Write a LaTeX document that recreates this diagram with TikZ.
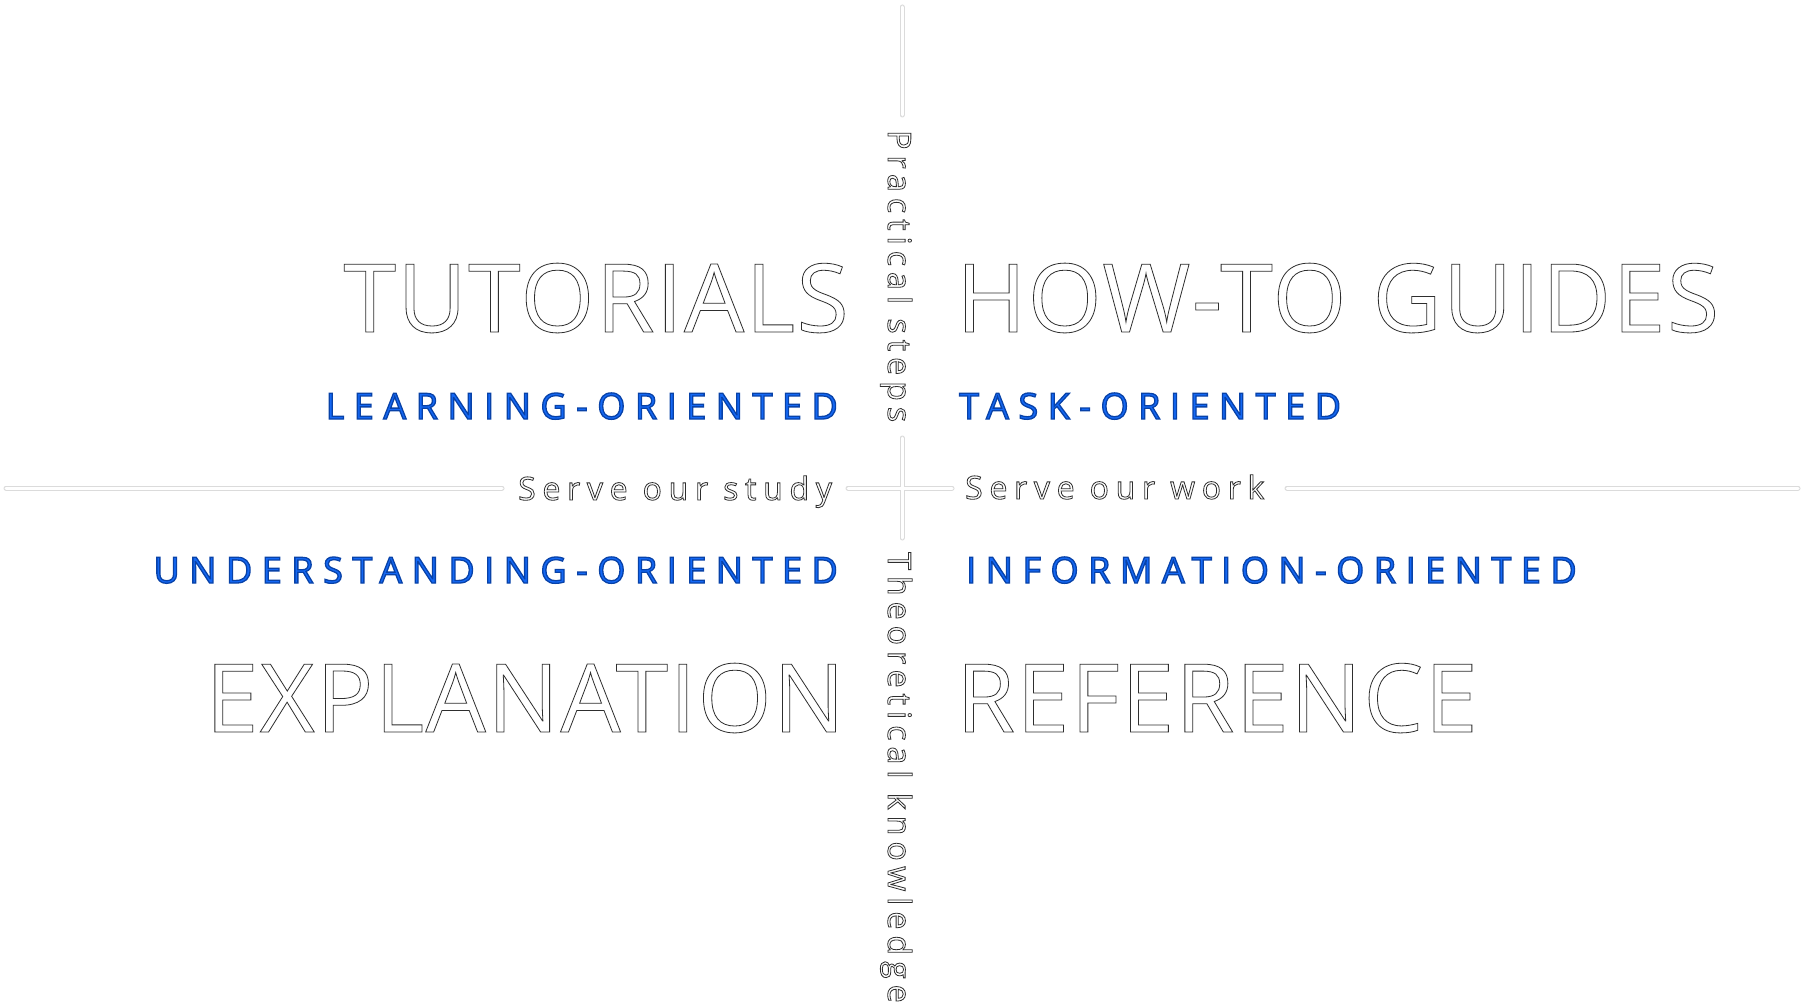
\documentclass[tikz,border=0pt]{standalone}
\usepackage{fontspec}
\setmainfont{Open Sans}
\newfontfamily\quadfont[LetterSpace=1.6]{Open Sans}
\newfontfamily\aimfont[LetterSpace=26.5]{Open Sans}
\newfontfamily\axisfont[LetterSpace=21]{Open Sans}
\newfontfamily\stemfont[LetterSpace=19]{Open Sans}
\usepackage{tikz}
\usetikzlibrary{positioning}
\definecolor{aimblue}{RGB}{20,104,245}
\newcommand{\hollow}[1]{{\color{white}\special{pdf:literal direct 2 Tr 0.8 w 0.18 G}#1\special{pdf:literal direct 0 Tr}}}
\newcommand{\aimtext}[1]{{\color{aimblue}\special{pdf:literal direct 2 Tr 1.3 w 0.03 0.26 0.66 RG}#1\special{pdf:literal direct 0 Tr}}}
\tikzset{
  quadrant/.style={font=\quadfont\fontsize{95}{100}\selectfont, inner sep=0pt},
  aimlabel/.style={font=\aimfont\fontsize{36}{40}\selectfont, inner sep=0pt},
  axislabel/.style={font=\axisfont\fontsize{32}{36}\selectfont, inner sep=0pt},
  stemlabel/.style={font=\stemfont\fontsize{32}{36}\selectfont, inner sep=0pt, rotate=-90},
  ruleedge/.style={line width=5pt, draw=black!14, line cap=round},
  rulecore/.style={line width=3pt, draw=white, line cap=round}
}
\begin{document}
\begin{tikzpicture}[x=1pt, y=-1pt]
                \fill[white] (0,0) rectangle (1802,1008);
                \useasboundingbox (0,0) rectangle (1802,1008);
                \coordinate (topN) at (902,7);
                \coordinate (topS) at (902,115);
                \coordinate (crossN) at (902,438);
                \coordinate (crossS) at (902,538);
                \coordinate (crossW) at (848,488);
                \coordinate (crossE) at (952,488);
                \coordinate (farW) at (6,488);
                \coordinate (studyW) at (502,488);
                \coordinate (workE) at (1287,488);
                \coordinate (farE) at (1798,488);
                \foreach \a/\b in {topN/topS, crossN/crossS, crossW/crossE, farW/studyW, workE/farE}
                    \draw[ruleedge] (\a) -- (\b);
                \foreach \a/\b in {topN/topS, crossN/crossS, crossW/crossE, farW/studyW, workE/farE}
                    \draw[rulecore] (\a) -- (\b);
                \node[quadrant, anchor=base east] (tutorials) at (849,332) {\hollow{TUTORIALS}};
                \node[quadrant, anchor=base west] (howto) at (956,332) {\hollow{HOW-TO GUIDES}};
                \node[quadrant, anchor=base east] (explanation) at (845,732) {\hollow{EXPLANATION}};
                \node[quadrant, anchor=base west] (reference) at (956,732) {\hollow{REFERENCE}};
                \node[aimlabel, anchor=base east] (learning) at (838,419) {\aimtext{LEARNING-ORIENTED}};
                \node[aimlabel, anchor=base west] (task) at (959,419) {\aimtext{TASK-ORIENTED}};
                \node[aimlabel, anchor=base east] (understanding) at (838,583) {\aimtext{UNDERSTANDING-ORIENTED}};
                \node[aimlabel, anchor=base west] (information) at (966,583) {\aimtext{INFORMATION-ORIENTED}};
                \node[axislabel, anchor=base west] (study) at (518,500) {\hollow{Serve our study}};
                \node[axislabel, anchor=base west] (work) at (965,499) {\hollow{Serve our work}};
                \node[stemlabel, anchor=base west] (practical) at (888,130) {\hollow{Practical steps}};
                \node[stemlabel, anchor=base west] (theory) at (888,552) {\hollow{Theoretical knowledge}};
\end{tikzpicture}
\end{document}
